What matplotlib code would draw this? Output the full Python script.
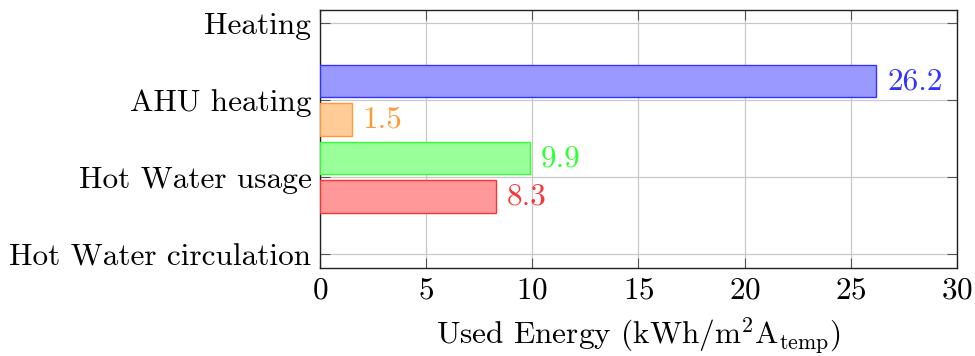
import matplotlib
matplotlib.use("Agg")
import matplotlib.pyplot as plt

plt.rcParams['font.family'] = 'cmr10'
plt.rcParams['mathtext.fontset'] = 'cm'
plt.rcParams['axes.formatter.use_mathtext'] = True

# categories on the y axis, top to bottom
categories = ["Heating", "AHU heating", "Hot Water usage", "Hot Water circulation"]
cat_pos = [3, 2, 1, 0]

# one bar per series: value and where it sits on the y axis
values = [26.2, 1.5, 9.9, 8.3]
bar_pos = [2.25, 1.75, 1.25, 0.75]
edge_colors = ["#3333ff", "#ff9933", "#33ff33", "#ff3333"]
fill_colors = ["#9999ff", "#ffcc99", "#99ff99", "#ff9999"]
label_colors = ["#3333ff", "#ff9933", "#33ff33", "#ff3333"]

fig = plt.figure(figsize=(9.75, 3.56), dpi=100)
ax = fig.add_axes([0.328, 0.247, 0.6535, 0.725])

ax.barh(bar_pos, values, height=0.42, color=fill_colors, edgecolor=edge_colors,
        linewidth=1.0, zorder=3)
for y, v, c in zip(bar_pos, values, label_colors):
    ax.annotate(f"{v:.1f}", xy=(v, y), xytext=(8, 0), textcoords="offset points",
                ha="left", va="center", color=c, fontsize=22.5, zorder=4)

ax.set_xlim(0, 30)
ax.set_ylim(-0.178, 3.173)
ax.set_xticks(range(0, 31, 5))
ax.set_yticks(cat_pos)
ax.set_yticklabels(categories)
ax.tick_params(axis="both", labelsize=22.5, direction="in", length=7.5, width=0.8,
               color="#555555", top=True, right=True, pad=6)
ax.grid(True, color="#c8c8c8", linewidth=0.9, zorder=0)
for s in ax.spines.values():
    s.set_linewidth(1.0)
    s.set_color("#222222")

ax.set_xlabel(r"Used Energy (kWh/m$^2$A$_{\rm temp}$)", fontsize=22.5, labelpad=8)

fig.savefig("out.png", dpi=100)
